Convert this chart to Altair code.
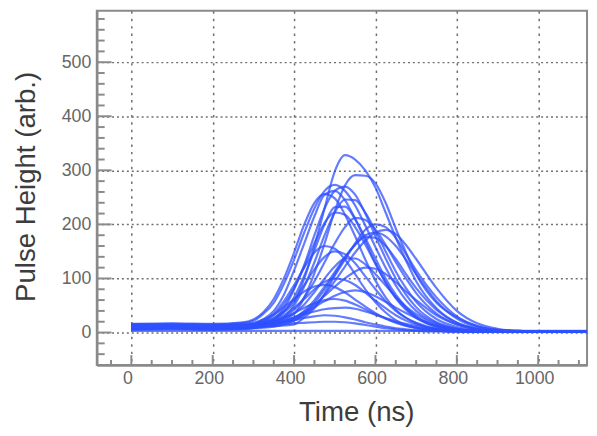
import altair as alt
import pandas as pd

# time grid (ns) shared by every trace
T = [0, 100, 200, 275, 300, 325, 350, 375, 400, 425, 450, 475, 500, 525, 550,
     575, 600, 625, 650, 675, 700, 750, 800, 850, 900, 950, 1000, 1120]

c01 = [10, 11, 10, 12, 14, 18, 25, 38, 55, 100, 160, 230, 298, 328, 320, 300, 268, 222, 175, 133, 95, 45, 18, 7, 3, 2, 2, 2]
c02 = [12, 12, 11, 13, 15, 18, 22, 28, 35, 65, 110, 165, 225, 272, 291, 290, 276, 240, 192, 148, 108, 55, 28, 12, 5, 3, 2, 2]
c03 = [8, 9, 8, 9, 10, 11, 12, 13, 15, 28, 45, 72, 105, 135, 165, 190, 200, 195, 175, 145, 115, 65, 30, 12, 5, 3, 2, 2]
c04 = [14, 13, 14, 14, 15, 15, 16, 18, 22, 32, 48, 70, 95, 122, 148, 170, 185, 190, 182, 162, 136, 82, 40, 17, 7, 3, 2, 2]
c05 = [15, 16, 15, 18, 22, 35, 55, 90, 135, 185, 230, 262, 273, 262, 235, 198, 158, 120, 87, 60, 40, 17, 7, 3, 2, 2, 2, 2]
c06 = [12, 13, 12, 14, 16, 25, 40, 70, 115, 165, 215, 255, 262, 245, 210, 170, 128, 92, 63, 42, 27, 10, 4, 2, 2, 2, 2, 2]
c07 = [9, 10, 9, 10, 12, 17, 25, 45, 80, 125, 180, 230, 262, 270, 255, 220, 178, 137, 100, 70, 47, 19, 7, 3, 2, 2, 2, 2]
c08 = [16, 17, 16, 19, 24, 38, 62, 100, 148, 200, 240, 256, 248, 218, 178, 135, 96, 65, 42, 27, 17, 6, 3, 2, 2, 2, 2, 2]
c09 = [7, 8, 7, 8, 9, 12, 17, 28, 50, 85, 130, 180, 222, 246, 245, 222, 188, 150, 113, 82, 57, 25, 10, 4, 2, 2, 2, 2]
c10 = [11, 12, 11, 12, 14, 20, 32, 52, 82, 122, 165, 203, 222, 218, 195, 163, 127, 93, 65, 44, 29, 11, 4, 2, 2, 2, 2, 2]
c11 = [13, 12, 13, 13, 14, 16, 20, 28, 42, 65, 95, 130, 165, 195, 212, 208, 190, 162, 130, 100, 73, 35, 15, 6, 3, 2, 2, 2]
c12 = [6, 7, 6, 7, 8, 9, 11, 15, 22, 35, 55, 80, 108, 138, 162, 177, 175, 160, 136, 108, 82, 42, 18, 7, 3, 2, 2, 2]
c13 = [10, 11, 10, 12, 15, 22, 35, 58, 88, 120, 148, 160, 155, 135, 108, 80, 56, 37, 23, 14, 9, 4, 2, 2, 2, 2, 2, 2]
c14 = [14, 14, 13, 15, 16, 20, 27, 40, 60, 88, 117, 140, 150, 145, 128, 104, 80, 58, 40, 27, 18, 7, 3, 2, 2, 2, 2, 2]
c15 = [8, 9, 8, 9, 10, 12, 16, 23, 35, 52, 75, 100, 122, 137, 137, 126, 108, 87, 66, 48, 34, 15, 6, 3, 2, 2, 2, 2]
c16 = [12, 12, 12, 13, 14, 15, 17, 21, 28, 38, 52, 68, 85, 100, 113, 120, 118, 108, 93, 76, 60, 32, 15, 6, 3, 2, 2, 2]
c17 = [9, 10, 9, 10, 12, 16, 22, 32, 46, 62, 80, 94, 100, 97, 88, 74, 59, 45, 32, 22, 15, 6, 3, 2, 2, 2, 2, 2]
c18 = [15, 15, 14, 16, 18, 24, 33, 47, 62, 76, 85, 88, 84, 74, 61, 48, 36, 26, 18, 12, 8, 4, 2, 2, 2, 2, 2, 2]
c19 = [7, 8, 7, 8, 9, 11, 14, 19, 26, 36, 47, 58, 68, 75, 78, 75, 67, 57, 46, 36, 27, 13, 6, 3, 2, 2, 2, 2]
c20 = [11, 11, 10, 11, 12, 15, 20, 27, 36, 46, 54, 60, 62, 59, 52, 43, 34, 26, 19, 13, 9, 4, 2, 2, 2, 2, 2, 2]
c21 = [13, 13, 12, 13, 14, 16, 19, 23, 28, 34, 39, 43, 45, 46, 44, 39, 33, 27, 21, 16, 12, 6, 3, 2, 2, 2, 2, 2]
c22 = [8, 9, 8, 9, 10, 12, 15, 19, 23, 27, 30, 32, 31, 28, 24, 19, 15, 11, 8, 6, 4, 3, 2, 2, 2, 2, 2, 2]
c23 = [10, 10, 9, 10, 11, 12, 13, 15, 17, 18, 19, 20, 20, 19, 17, 14, 11, 8, 6, 4, 3, 2, 2, 2, 2, 2, 2, 2]
c24 = [3, 3, 3, 3, 3, 3, 3, 3, 3, 3, 3, 3, 3, 3, 3, 3, 3, 3, 3, 3, 3, 3, 3, 3, 3, 3, 3, 3]
c25 = [5, 6, 5, 6, 8, 13, 22, 38, 65, 105, 152, 200, 232, 233, 210, 175, 137, 100, 70, 47, 30, 12, 5, 2, 2, 2, 2, 2]
c26 = [10, 10, 10, 11, 12, 13, 15, 19, 26, 40, 60, 85, 112, 140, 163, 180, 185, 178, 160, 135, 108, 58, 26, 10, 4, 2, 2, 2]

traces = [c01, c02, c03, c04, c05, c06, c07, c08, c09, c10, c11, c12, c13,
          c14, c15, c16, c17, c18, c19, c20, c21, c22, c23, c24, c25, c26]

x_major = [0, 200, 400, 600, 800, 1000]
x_minor = [-50, 50, 100, 150, 250, 300, 350, 450, 500, 550, 650, 700, 750,
           850, 900, 950, 1050, 1100]
y_major = [0, 100, 200, 300, 400, 500]
y_minor = [-40, -20, 20, 40, 60, 80, 120, 140, 160, 180, 220, 240, 260, 280,
           320, 340, 360, 380, 420, 440, 460, 480, 520, 540, 560, 580]

rows = []
for i, tr in enumerate(traces):
    for t, v in zip(T, tr):
        rows.append({"curve": i, "t": t, "v": v})
df = pd.DataFrame(rows)

W, H = 497, 359
AX = "#8a8a8a"
FONT = "Liberation Sans"

xscale = alt.Scale(domain=[-85, 1120], nice=False, zero=False)
yscale = alt.Scale(domain=[-60, 595], nice=False, zero=False)

xaxis = alt.Axis(values=x_major, format="d", grid=True, gridDash=[2.5, 5],
                 gridColor="#6f6f6f", gridWidth=1.5, ticks=False, tickSize=0,
                 domainColor=AX, domainWidth=2.5, labelFontSize=18,
                 labelColor="#666666", labelPadding=5, labelFont=FONT,
                 labelOffset=-4,
                 title="Time (ns)", titleFontSize=28, titleFontWeight="normal",
                 titleColor="#3c3c3c", titleFont=FONT, titleX=263, titleY=56,
                 titleBaseline="alphabetic", titleAlign="center")
yaxis = alt.Axis(values=y_major, format="d", grid=True, gridDash=[2, 3],
                 gridColor="#6f6f6f", gridWidth=1.5, ticks=False, tickSize=0,
                 domainColor=AX, domainWidth=2.5, labelFontSize=18,
                 labelColor="#666666", labelPadding=6, labelFont=FONT,
                 title="Pulse Height (arb.)", titleFontSize=28,
                 titleFontWeight="normal", titleColor="#3c3c3c", titleFont=FONT,
                 titleX=-63, titleY=178, titleAngle=-90,
                 titleBaseline="alphabetic", titleAlign="center")

lines = alt.Chart(df).mark_line(
    interpolate="monotone", color="#2f50ff", strokeWidth=2.2, opacity=0.75,
    clip=True
).encode(
    x=alt.X("t:Q", scale=xscale, axis=xaxis),
    y=alt.Y("v:Q", scale=yscale, axis=yaxis),
    detail="curve:N",
)

def xticks(vals, length):
    d = pd.DataFrame({"t": vals})
    return alt.Chart(d).mark_rule(color=AX, strokeWidth=2).encode(
        x=alt.X("t:Q", scale=xscale, axis=xaxis),
        y=alt.value(H), y2=alt.value(H - length))

def yticks(vals, length):
    d = pd.DataFrame({"v": vals})
    return alt.Chart(d).mark_rule(color=AX, strokeWidth=2).encode(
        y=alt.Y("v:Q", scale=yscale, axis=yaxis),
        x=alt.value(0), x2=alt.value(length))

chart = alt.layer(
    lines,
    xticks(x_major, 10), xticks(x_minor, 5),
    yticks(y_major, 15), yticks(y_minor, 8),
).properties(
    width=W, height=H,
    autosize=alt.AutoSizeParams(type="none"),
    padding={"left": 90, "top": 0, "right": 2, "bottom": 60},
).configure_view(stroke=AX, strokeWidth=2)

chart.save("out.html", embed_options={"renderer": "svg", "actions": False})
